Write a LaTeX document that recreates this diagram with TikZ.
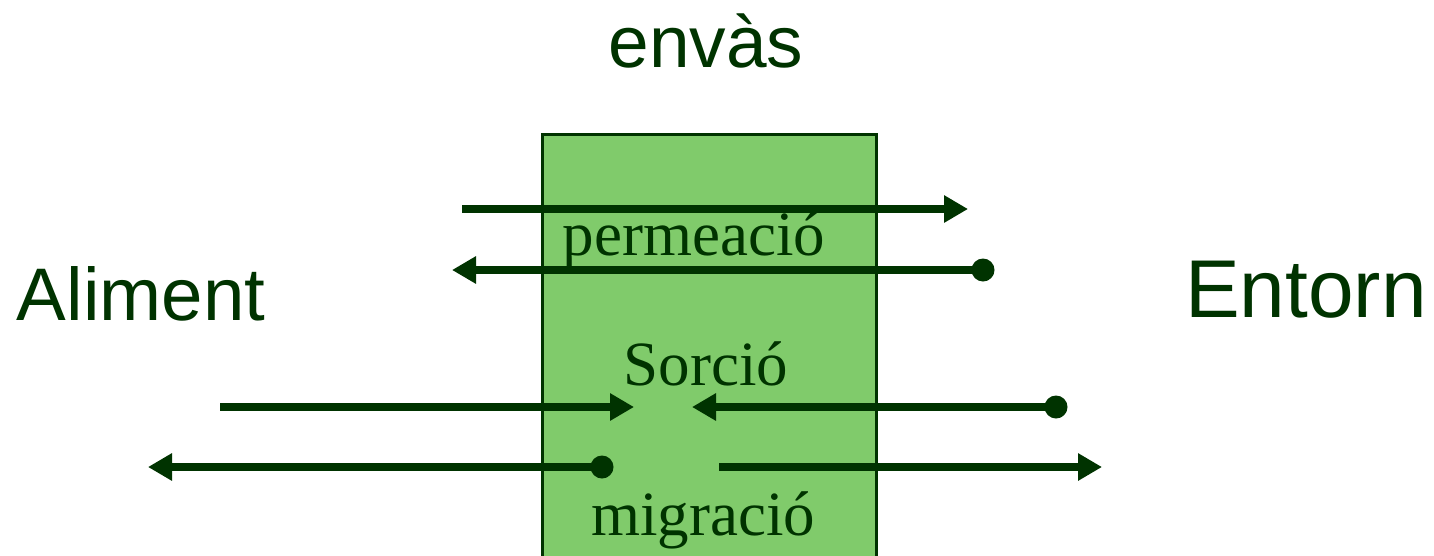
\documentclass[tikz,border=0pt]{standalone}
\usepackage{fontspec}
\setmainfont{Liberation Serif}
\newfontfamily\arialfont{Liberation Sans}
\usetikzlibrary{arrows.meta}
\definecolor{dgreen}{RGB}{0,51,0}
\definecolor{lgreen}{RGB}{128,203,107}
\tikzset{
  arr/.style={draw=dgreen, line width=8pt, -{Triangle[length=24pt,width=26pt]}},
  dotnode/.style={circle, fill=dgreen, inner sep=0pt, minimum size=23pt},
  sanslabel/.style={text=dgreen, anchor=base, inner sep=0pt, font=\arialfont\fontsize{73}{80}\selectfont},
  serlabel/.style={text=dgreen, anchor=base, inner sep=0pt, font=\fontsize{63}{70}\selectfont},
  layer/.style={draw=dgreen, line width=2.5pt, fill=lgreen}
}
\begin{document}
\begin{tikzpicture}[x=1pt,y=-1pt]
\useasboundingbox (0,0) rectangle (1434,555);
\clip (0,0) rectangle (1434,555);
\node[layer, minimum width=334pt, minimum height=460pt, anchor=north west, inner sep=0pt] (env) at (541,133) {};
% labels
\node[sanslabel] (tenv) at (706,67) {envàs};
\node[sanslabel, font=\arialfont\fontsize{74.5}{80}\selectfont] (tal) at (141,320) {Aliment};
\node[sanslabel, font=\arialfont\fontsize{82}{90}\selectfont] (tent) at (1306,317) {Entorn};
\node[serlabel] (tperm) at (694,255) {permeació};
\node[serlabel] (tsorc) at (706,385) {Sorció};
\node[serlabel] (tmig) at (703,535) {migració};
% arrow endpoints
\coordinate (a1s) at (462,209);
\coordinate (a1e) at (968,209);
\node[dotnode] (d2) at (983,270) {};
\coordinate (a2e) at (452,270);
\coordinate (a3s) at (220,407);
\coordinate (a3e) at (634,407);
\node[dotnode] (d4) at (1056,407) {};
\coordinate (a4e) at (692,407);
\node[dotnode] (d5) at (602,467) {};
\coordinate (a5e) at (148,467);
\coordinate (a6s) at (719,467);
\coordinate (a6e) at (1102,467);
\draw[arr] (a1s) -- (a1e);
\draw[arr] (d2.center) -- (a2e);
\draw[arr] (a3s) -- (a3e);
\draw[arr] (d4.center) -- (a4e);
\draw[arr] (d5.center) -- (a5e);
\draw[arr] (a6s) -- (a6e);
\end{tikzpicture}
\end{document}
